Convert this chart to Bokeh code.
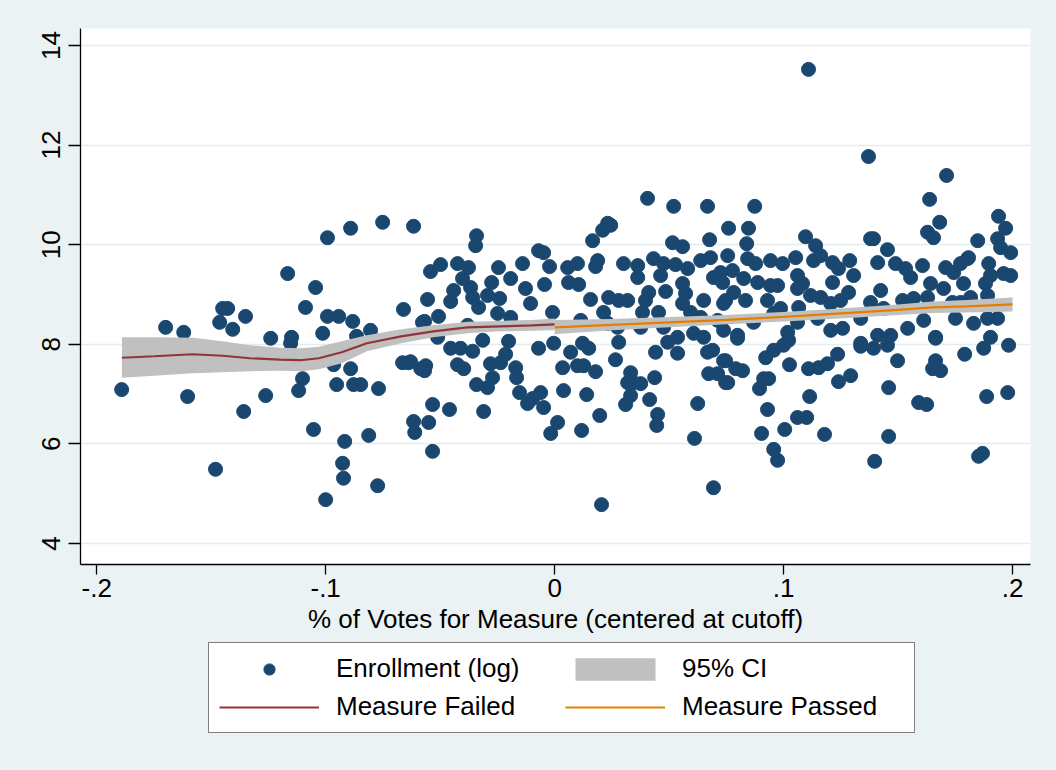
from bokeh.plotting import figure
from bokeh.layouts import column
from bokeh.models import Range1d, FixedTicker, Legend, LegendItem
from bokeh.embed import file_html
from bokeh.resources import INLINE

# ---- data ----
vote_share_failed = [
    -0.0992, -0.0891, -0.0751, -0.0616, -0.1166, -0.1044, -0.1088, -0.1450, -0.1428, -0.1463,
    -0.1350, -0.1406, -0.1699, -0.1620, -0.1240, -0.1149, -0.1153, -0.0992, -0.0943, -0.0882,
    -0.1013, -0.0865, -0.0804, -0.0660, -0.0577, -0.1891, -0.1603, -0.1358, -0.1262, -0.1101,
    -0.1118, -0.0965, -0.0891, -0.0952, -0.0878, -0.0847, -0.0769, -0.0664, -0.0638, -0.0585,
    -0.1053, -0.0917, -0.0812, -0.0616, -0.0611, -0.1481, -0.0926, -0.0922, -0.0773, -0.1000,
    -0.0533, -0.0533,
    -0.0341, -0.0345, -0.0070, -0.0048, -0.0542, -0.0498, -0.0424, -0.0376, -0.0402, -0.0441,
    -0.0454, -0.0555, -0.0507, -0.0568, -0.0367, -0.0358, -0.0332, -0.0293, -0.0275, -0.0245,
    -0.0240, -0.0192, -0.0140, -0.0127, -0.0105, -0.0044, -0.0022, -0.0249, -0.0192, -0.0009,
    -0.0380, -0.0511,
    -0.0629, -0.0563, -0.0568, -0.0550, -0.0459, -0.0310, -0.0454, -0.0411, -0.0358, -0.0424,
    -0.0397, -0.0314, -0.0280, -0.0236, -0.0214, -0.0201, -0.0271, -0.0293, -0.0341, -0.0170,
    -0.0166, -0.0153, -0.0118, -0.0096, -0.0061, -0.0048, -0.0070, -0.0004, -0.0017,
]
enroll_failed = [
    10.14, 10.33, 10.45, 10.37, 9.42, 9.14, 8.74, 8.72, 8.72, 8.44,
    8.56, 8.30, 8.34, 8.24, 8.12, 8.14, 8.02, 8.56, 8.56, 8.46,
    8.22, 8.16, 8.28, 8.70, 8.44, 7.09, 6.95, 6.65, 6.97, 7.31,
    7.07, 7.59, 7.51, 7.19, 7.19, 7.19, 7.11, 7.63, 7.63, 7.51,
    6.29, 6.05, 6.17, 6.45, 6.23, 5.49, 5.61, 5.31, 5.16, 4.88,
    5.85, 6.79,
    10.18, 9.98, 9.88, 9.84, 9.46, 9.60, 9.62, 9.54, 9.32, 9.08,
    8.86, 8.90, 8.56, 8.46, 9.14, 8.94, 8.74, 8.98, 9.24, 9.54,
    8.92, 9.32, 9.62, 9.12, 8.82, 9.20, 9.56, 8.62, 8.54, 8.64,
    8.38, 8.14,
    7.65, 7.57, 7.47, 6.43, 6.69, 6.65, 7.92, 7.92, 7.86, 7.59,
    7.51, 8.08, 7.61, 7.63, 7.80, 8.06, 7.33, 7.13, 7.19, 7.53,
    7.33, 7.03, 6.81, 6.91, 7.03, 6.73, 7.92, 8.02, 6.21,
]
vote_share_passed = [
    0.0166, 0.0210, 0.0232, 0.0245, 0.0406, 0.0520, 0.0668, 0.0760, 0.0179, 0.0188,
    0.0057, 0.0100, 0.0061, 0.0105, 0.0157, 0.0214, 0.0236, 0.0280, 0.0319, 0.0301,
    0.0363, 0.0363, 0.0432, 0.0476, 0.0528, 0.0581, 0.0515, 0.0559, 0.0463, 0.0485,
    0.0411, 0.0397, 0.0384, 0.0454, 0.0559, 0.0572, 0.0559, 0.0594, 0.0651, 0.0638,
    0.0681, 0.0677, 0.0756, 0.0694, 0.0734, 0.0747, 0.0638, 0.0712, 0.0114, 0.0232,
    0.0275, 0.0376, 0.0476, 0.0537, 0.0607, 0.0651, 0.0738,
    0.0039, 0.0035, 0.0070, 0.0100, 0.0127, 0.0122, 0.0149, 0.0179, 0.0140, 0.0197,
    0.0266, 0.0280, 0.0013, 0.0118, 0.0205, 0.0332, 0.0345, 0.0376, 0.0319, 0.0332,
    0.0310, 0.0437, 0.0415, 0.0450, 0.0446, 0.0441, 0.0494, 0.0537, 0.0625, 0.0611,
    0.0694, 0.0668, 0.0690, 0.0673, 0.0712, 0.0747, 0.0738,
    0.1109, 0.1371, 0.1712, 0.1638, 0.1682, 0.1629, 0.1655, 0.1939, 0.1970, 0.1935,
    0.1948, 0.1992, 0.1848, 0.1808, 0.0874, 0.0847, 0.0839, 0.1096, 0.1140, 0.1380,
    0.1393, 0.1454, 0.0843, 0.0878, 0.0943, 0.0996, 0.1053, 0.1131, 0.1162, 0.1214,
    0.1240, 0.1289, 0.1306, 0.1214, 0.1061, 0.1083, 0.1411, 0.1489, 0.1533, 0.1555,
    0.1607, 0.1642, 0.1708, 0.1743, 0.1773, 0.1804, 0.1786, 0.1896, 0.1904, 0.1961,
    0.1992, 0.1882, 0.0725, 0.0777, 0.0826, 0.0887, 0.0943, 0.0974, 0.1061, 0.0738,
    0.0782, 0.0834, 0.0930, 0.0987, 0.1066, 0.1118, 0.1162, 0.1206, 0.1249, 0.1284,
    0.1424, 0.1380, 0.1437, 0.1520, 0.1568, 0.1629, 0.1699, 0.1738, 0.1773, 0.1817,
    0.1891, 0.1751, 0.1830, 0.1891, 0.1935, 0.0799, 0.0869, 0.0957, 0.1018, 0.1061,
    0.1149, 0.1206, 0.1258, 0.1337, 0.1337, 0.1411, 0.1468, 0.1542, 0.1612, 0.1664,
    0.1904, 0.1983,
    0.0799, 0.0747, 0.0756, 0.0791, 0.0821, 0.0922, 0.0957, 0.1000, 0.1022, 0.0913,
    0.0935, 0.0895, 0.1026, 0.1109, 0.1153, 0.1192, 0.1236, 0.1240, 0.1293, 0.1337,
    0.1393, 0.1454, 0.1498, 0.1459, 0.1114, 0.0930, 0.0904, 0.1005, 0.1061, 0.1101,
    0.1179, 0.0957, 0.0974, 0.1398, 0.1459, 0.1590, 0.1625, 0.1664, 0.1651, 0.1686,
    0.1664, 0.1791, 0.1874, 0.1887, 0.1979, 0.1852, 0.1869,
]
enroll_passed = [
    10.08, 10.29, 10.43, 10.39, 10.93, 10.77, 10.77, 10.33, 9.56, 9.68,
    9.54, 9.62, 9.24, 9.20, 8.90, 8.64, 8.94, 8.88, 8.88, 9.62,
    9.58, 9.34, 9.72, 9.62, 9.60, 9.52, 10.04, 9.96, 9.38, 9.06,
    9.04, 8.88, 8.64, 8.64, 9.22, 9.02, 8.82, 8.64, 8.88, 9.68,
    9.74, 10.10, 9.78, 9.34, 9.24, 8.88, 8.54, 8.48, 8.48, 8.42,
    8.34, 8.34, 8.34, 8.14, 8.22, 8.14, 8.28,
    7.07, 7.53, 7.84, 7.57, 7.57, 8.02, 7.92, 7.45, 6.99, 6.57,
    7.69, 8.04, 6.43, 6.27, 4.78, 7.43, 7.23, 7.21, 7.23, 6.97,
    6.79, 7.33, 6.89, 6.59, 6.37, 7.84, 8.04, 7.82, 6.81, 6.11,
    5.12, 7.84, 7.88, 7.41, 7.41, 7.23, 7.67,
    13.52, 11.77, 11.39, 10.91, 10.45, 10.25, 10.14, 10.57, 10.33, 10.12,
    9.94, 9.84, 10.08, 9.74, 10.77, 10.33, 10.02, 10.16, 9.98, 10.12,
    10.12, 9.90, 9.72, 9.62, 9.68, 9.62, 9.74, 9.68, 9.78, 9.64,
    9.52, 9.68, 9.38, 9.24, 9.38, 9.22, 9.64, 9.62, 9.52, 9.34,
    9.58, 9.22, 9.54, 9.44, 9.62, 9.72, 9.22, 9.62, 9.38, 9.42,
    9.38, 9.22, 9.44, 9.48, 9.32, 9.24, 9.18, 9.18, 9.12, 8.82,
    9.04, 8.88, 8.88, 8.72, 8.74, 8.98, 8.94, 8.82, 8.88, 9.04,
    9.08, 8.84, 8.72, 8.88, 8.92, 8.94, 9.12, 8.84, 8.84, 8.94,
    8.98, 8.52, 8.42, 8.52, 8.52, 8.18, 8.44, 8.62, 8.24, 8.44,
    8.52, 8.28, 8.32, 8.52, 8.02, 8.18, 8.18, 8.32, 8.48, 8.14,
    8.14, 7.98,
    8.12, 7.67, 7.23, 7.51, 7.47, 7.73, 7.88, 7.98, 8.08, 7.31,
    7.31, 7.11, 7.59, 7.51, 7.53, 7.61, 7.80, 7.25, 7.37, 7.96,
    7.92, 7.98, 7.67, 7.13, 6.95, 6.69, 6.21, 6.29, 6.53, 6.53,
    6.19, 5.89, 5.67, 5.65, 6.15, 6.83, 6.79, 7.67, 7.51, 7.47,
    8.12, 7.80, 7.92, 6.95, 7.03, 5.75, 5.81,
]

fit_x_failed = [-0.189, -0.175, -0.158, -0.145, -0.133, -0.120, -0.111, -0.103,
                -0.093, -0.082, -0.067, -0.053, -0.038, -0.024, -0.010, 0.0]
fit_failed = [7.73, 7.76, 7.80, 7.77, 7.72, 7.69, 7.68, 7.72,
              7.84, 8.02, 8.16, 8.26, 8.34, 8.36, 8.38, 8.40]
ci_lo_failed = [7.33, 7.37, 7.42, 7.44, 7.46, 7.47, 7.46, 7.50,
                7.62, 7.86, 8.02, 8.14, 8.22, 8.26, 8.27, 8.28]
ci_hi_failed = [8.14, 8.14, 8.13, 8.06, 7.98, 7.93, 7.92, 7.95,
                8.06, 8.18, 8.30, 8.38, 8.45, 8.47, 8.49, 8.52]

fit_x_passed = [0.0, 0.025, 0.05, 0.075, 0.1, 0.125, 0.15, 0.165, 0.18, 0.2]
fit_passed = [8.34, 8.39, 8.44, 8.49, 8.55, 8.62, 8.69, 8.74, 8.76, 8.80]
ci_lo_passed = [8.20, 8.28, 8.34, 8.40, 8.46, 8.52, 8.59, 8.63, 8.64, 8.66]
ci_hi_passed = [8.49, 8.51, 8.55, 8.59, 8.65, 8.72, 8.80, 8.86, 8.89, 8.94]

x_ticks = [-0.2, -0.1, 0.0, 0.1, 0.2]
x_tick_labels = ["-.2", "-.1", "0", ".1", ".2"]
y_ticks = [4, 6, 8, 10, 12, 14]
y_tick_labels = ["4", "6", "8", "10", "12", "14"]
legend_labels = ["Enrollment (log)", "95% CI", "Measure Failed", "Measure Passed"]

# ---- styling ----
BG = "#EAF2F3"
NAVY = "#1A476F"
MAROON = "#90353B"
ORANGE = "#E37E00"
CI_GRAY = "#C0C0C0"
FONT = "Liberation Sans"

# ---------------- main plot ----------------
p = figure(width=1056, height=642, output_backend="svg", toolbar_location=None,
           x_range=Range1d(-0.20708, 0.20786), y_range=Range1d(3.578, 14.341),
           min_border_left=80, min_border_right=26, min_border_top=28,
           min_border_bottom=78)
p.border_fill_color = BG
p.background_fill_color = "white"
p.outline_line_color = None

p.scatter(vote_share_failed + vote_share_passed, enroll_failed + enroll_passed,
          size=14, fill_color=NAVY, line_color=NAVY, line_width=1)
p.varea(x=fit_x_failed, y1=ci_lo_failed, y2=ci_hi_failed, fill_color=CI_GRAY)
p.varea(x=fit_x_passed, y1=ci_lo_passed, y2=ci_hi_passed, fill_color=CI_GRAY)
p.line(fit_x_failed, fit_failed, line_color=MAROON, line_width=2.2)
p.line(fit_x_passed, fit_passed, line_color=ORANGE, line_width=2.2)

for ax in (p.xaxis[0], p.yaxis[0]):
    ax.axis_line_color = "black"
    ax.axis_line_width = 1.3
    ax.major_tick_line_color = "black"
    ax.major_tick_line_width = 1.3
    ax.major_tick_in = 0
    ax.minor_tick_line_color = None
    ax.major_label_text_font = FONT
    ax.major_label_text_font_size = "26px"
    ax.major_label_text_color = "black"

p.xaxis.ticker = FixedTicker(ticks=x_ticks)
p.xaxis.major_label_overrides = dict(zip(x_ticks, x_tick_labels))
p.xaxis.major_tick_out = 10
p.xaxis.major_label_standoff = 4
p.xaxis.axis_label = "% of Votes for Measure (centered at cutoff)"
p.xaxis.axis_label_text_font = FONT
p.xaxis.axis_label_text_font_size = "26px"
p.xaxis.axis_label_text_font_style = "normal"
p.xaxis.axis_label_text_color = "black"
p.xaxis.axis_label_standoff = 4

p.yaxis.ticker = FixedTicker(ticks=y_ticks)
p.yaxis.major_label_overrides = dict(zip(y_ticks, y_tick_labels))
p.yaxis.major_label_orientation = "vertical"
p.yaxis.major_tick_out = 12
p.yaxis.major_label_standoff = 8

p.xgrid.grid_line_color = None
p.ygrid.ticker = FixedTicker(ticks=y_ticks)
p.ygrid.grid_line_color = "#E3ECEE"
p.ygrid.grid_line_width = 1.5

# ---------------- legend strip ----------------
lg = figure(width=1056, height=128, output_backend="svg", toolbar_location=None,
            x_range=Range1d(0, 1), y_range=Range1d(0, 1),
            min_border_left=0, min_border_right=0, min_border_top=0, min_border_bottom=0)
lg.axis.visible = False
lg.grid.visible = False
lg.border_fill_color = BG
lg.background_fill_color = BG
lg.outline_line_color = None

# legend-key renderers: their data lie outside the strip's ranges, so only the keys show
k_pts = lg.scatter(x=[-5], y=[-5], size=14, fill_color=NAVY, line_color=NAVY)
k_ci = lg.varea(x=[-5, -4], y1=[-5, -5], y2=[-4, -4], fill_color=CI_GRAY)
k_l1 = lg.line(x=[-5, -4], y=[-5, -5], line_color=MAROON, line_width=2.2)
k_l2 = lg.line(x=[-5, -4], y=[-5, -5], line_color=ORANGE, line_width=2.2)

legend = Legend(items=[
    LegendItem(label=legend_labels[0], renderers=[k_pts]),
    LegendItem(label=legend_labels[1], renderers=[k_ci]),
    LegendItem(label=legend_labels[2], renderers=[k_l1]),
    LegendItem(label=legend_labels[3], renderers=[k_l2]),
], location=(128, 37), orientation="horizontal", ncols=2,
   glyph_width=100, glyph_height=28, label_standoff=17, label_width=222,
   spacing=7, padding=10, margin=0,
   border_line_color="black", border_line_width=1.3,
   background_fill_color="white", background_fill_alpha=1.0,
   label_text_font=FONT, label_text_font_size="26px", label_text_color="black",
   label_text_baseline="middle")
lg.add_layout(legend)

layout = column(p, lg, spacing=0, styles={"background-color": BG})
open("out.html", "w").write(file_html(layout, INLINE))
